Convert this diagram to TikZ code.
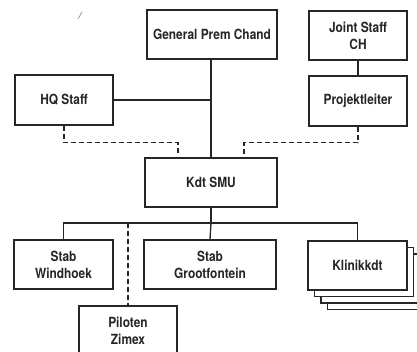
\documentclass[tikz,border=0pt]{standalone}
\usepackage{fontspec}
\setmainfont{TeX Gyre Heros}[FakeStretch=0.85]
\begin{document}
\begin{tikzpicture}[x=1pt,y=-1pt,
  box/.style={draw=black!85,line width=1.3pt,fill=white,align=center,inner sep=0pt,
    font=\bfseries\fontsize{14}{17}\selectfont,text=black!85},
  con/.style={draw=black!85,line width=1.3pt},
  dsh/.style={con,dash pattern=on 5pt off 3pt}]
\useasboundingbox (0,0) rectangle (417,351);
\begin{scope}
\clip (0,0) rectangle (417,351);
% stacked copies behind Klinikkdt
\node[box,minimum width=99pt,minimum height=49pt] (k3) at (377,285) {};
\node[box,minimum width=99pt,minimum height=49pt] (k2) at (370.5,278.5) {};
\node[box,minimum width=99pt,minimum height=49pt] (k1) at (364,272) {};
\node[box,minimum width=99pt,minimum height=49pt] (klinik) at (357.5,265.5) {Klinikkdt};

\node[box,minimum width=130pt,minimum height=49pt] (gpc) at (212,34.5) {General Prem Chand};
\node[box,minimum width=98pt,minimum height=49pt] (joint) at (358,35.5) {Joint Staff\\CH};
\node[box,minimum width=98pt,minimum height=50pt] (hq) at (64,100) {HQ Staff};
\node[box,minimum width=98pt,minimum height=50pt] (proj) at (358,101) {Projektleiter};
\node[box,minimum width=132pt,minimum height=49pt] (kdt) at (211,182.5) {Kdt SMU};
\node[box,minimum width=99pt,minimum height=49pt] (wind) at (63.5,264.5) {Stab\\Windhoek};
\node[box,minimum width=132pt,minimum height=49pt] (groot) at (210,264.5) {Stab\\Grootfontein};
\node[box,minimum width=98pt,minimum height=62pt] (pilot) at (128,337) {};
\node[font=\bfseries\fontsize{14}{17}\selectfont,text=black!85,align=center,inner sep=0pt] (pilottext) at (128,331) {Piloten\\Zimex};

% connectors
\draw[con] (gpc.south -| kdt.north) -- (kdt.north);
\draw[con] (hq.east) -- (hq.east -| kdt.north);
\draw[con] (joint.south) -- (proj.north);
\coordinate (bus) at (211,223);
\draw[con] (kdt.south) -- (bus);
\draw[con] (wind.north) |- (bus) -| (klinik.north);
\draw[con] (bus) -- (groot.north);
\coordinate (hqd) at (178,154);
\coordinate (prd) at (244,154);
\draw[dsh] (hq.south) -- ++(0,17) -| (hqd);
\draw[dsh] (proj.south) -- ++(0,16) -| (prd);
\coordinate (pbus) at (128,223);
\draw[dsh] (pbus) -- (pilot.north);
% stray scan mark
\draw[black!50,line width=0.6pt] (78,19) -- (82,12);
\end{scope}
\end{tikzpicture}
\end{document}
